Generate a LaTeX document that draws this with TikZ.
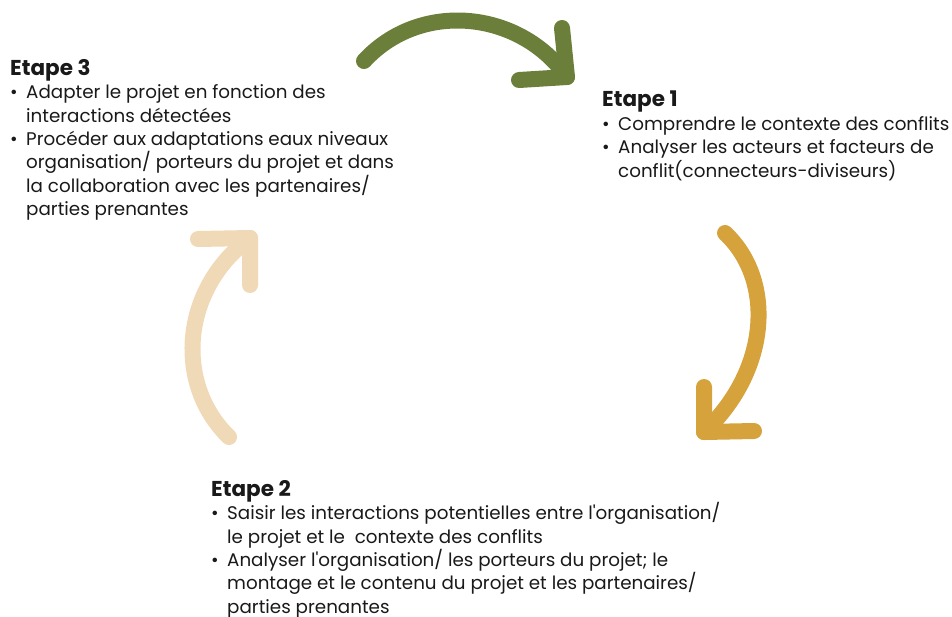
\documentclass[tikz,border=0pt]{standalone}
\usepackage{fontspec}
\setmainfont{Poppins}
\usetikzlibrary{positioning,calc}
\definecolor{stagegreen}{HTML}{6B7F3A}
\definecolor{stagegold}{HTML}{D5A23C}
\definecolor{stagesand}{HTML}{F0D9B6}
\newcommand{\bul}{\makebox[16pt][l]{\textbullet}}
\newcommand{\cont}{\hspace*{16pt}}
\newcommand{\apos}{\textquotesingle}
\begin{document}
\begin{tikzpicture}[x=1pt,y=-1pt,
    stage text/.style={anchor=north west,align=left,inner sep=0pt,
      font=\fontsize{18.3}{23.4}\selectfont,text=black!90},
    loop arrow/.style={line width=16pt,line cap=round,line join=round}]

    \useasboundingbox (0,0) rectangle (952,616);

    \node[stage text] (s3) at (10,59) {{\bfseries\fontsize{21.5}{23.4}\selectfont Etape 3}\\
      \bul Adapter le projet en fonction des\\
      \cont interactions détectées\\
      \bul Procéder aux adaptations eaux niveaux\\
      \cont organisation/ porteurs du projet et dans\\
      \cont la collaboration avec les partenaires/\\
      \cont parties prenantes};
    \node[stage text] (s1) at (602,91) {{\bfseries\fontsize{21.5}{23.4}\selectfont Etape 1}\\
      \bul Comprendre le contexte des conflits\\
      \bul Analyser les acteurs et facteurs de\\
      \cont conflit(connecteurs-diviseurs)};
    \node[stage text] (s2) at (211,480) {{\bfseries\fontsize{21.5}{23.4}\selectfont Etape 2}\\
      \bul Saisir les interactions potentielles entre l\apos organisation/\\
      \cont le projet et le\ \ contexte des conflits\\
      \bul Analyser l\apos organisation/ les porteurs du projet; le\\
      \cont montage et le contenu du projet et les partenaires/\\
      \cont parties prenantes};

    % arrows of the cycle
    \coordinate (g0) at (364,61);
    \coordinate (gt) at (567,77);
    \coordinate (ga) at (562,28);
    \coordinate (gb) at (519,80);
    \coordinate (o0) at (725,233);
    \coordinate (ot) at (704,432);
    \coordinate (oa) at (704,387);
    \coordinate (ob) at (754,431);
    \coordinate (b0) at (229,437);
    \coordinate (bt) at (250,238);
    \coordinate (ba) at (198,239);
    \coordinate (bb) at (250,285);

    \draw[loop arrow,stagegreen] (g0) .. controls (420,0) and (520,10) .. (gt);
    \draw[loop arrow,stagegreen] (ga) -- (gt) -- (gb);
    \draw[loop arrow,stagegold] (o0) .. controls (775,280) and (770,370) .. (ot);
    \draw[loop arrow,stagegold] (oa) -- (ot) -- (ob);
    \draw[loop arrow,stagesand] (b0) .. controls (175,385) and (180,290) .. (bt);
    \draw[loop arrow,stagesand] (ba) -- (bt) -- (bb);
\end{tikzpicture}
\end{document}
